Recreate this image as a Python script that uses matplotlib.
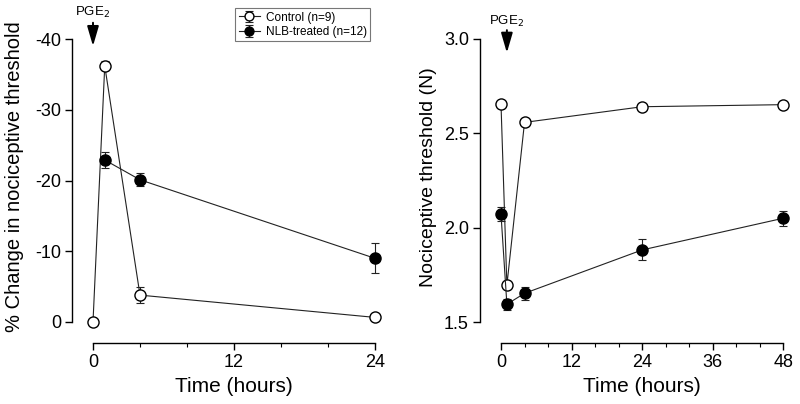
import numpy as np
import matplotlib.pyplot as plt

plt.rcParams['font.family'] = ['Liberation Sans', 'DejaVu Sans']
plt.rcParams['axes.unicode_minus'] = False

# left panel: % change in nociceptive threshold
t_left_ctrl = [0, 1, 4, 24]
pct_ctrl = [0.0, -36.2, -3.8, -0.65]
pct_ctrl_err = [0.0, 0.65, 1.1, 0.0]
t_left_nlb = [1, 4, 24]
pct_nlb = [-22.9, -20.1, -9.0]
pct_nlb_err = [1.1, 0.9, 2.1]

# right panel: nociceptive threshold (N)
t_right = [0, 1, 4, 24, 48]
thr_ctrl = [2.655, 1.695, 2.558, 2.641, 2.652]
thr_ctrl_err = [0.0, 0.0, 0.02, 0.0, 0.0]
thr_nlb = [2.071, 1.594, 1.652, 1.882, 2.05]
thr_nlb_err = [0.037, 0.03, 0.035, 0.056, 0.04]

W, H = 800, 404
fig = plt.figure(figsize=(W / 100, H / 100), dpi=100)


def box(x0, x1, ytop, ybot):
    return [x0 / W, 1 - ybot / H, (x1 - x0) / W, (ybot - ytop) / H]


ax1 = fig.add_axes(box(72, 390, 30, 343))
ax2 = fig.add_axes(box(480, 795, 30, 343))

lw = 0.8
ms = 8
cs = 2.6
arrow = dict(arrowstyle='-|>,head_width=0.35,head_length=1.2',
             color='black', lw=1.4, shrinkA=0, shrinkB=0)


def style(ax):
    for s in ['top', 'right']:
        ax.spines[s].set_visible(False)
    for s in ['left', 'bottom']:
        ax.spines[s].set_linewidth(1.0)
    ax.tick_params(axis='both', which='major', direction='out', length=5,
                   width=1.0, labelsize=13, pad=3)
    ax.tick_params(axis='x', which='minor', direction='out', length=3, width=0.8)
    ax.tick_params(axis='y', which='minor', left=False)


# left
ax1.errorbar(t_left_ctrl, pct_ctrl, yerr=pct_ctrl_err, fmt='-o', color='#222222',
             mfc='white', mec='black', ms=ms, lw=lw, elinewidth=lw, capsize=cs,
             capthick=lw, label='Control (n=9)', zorder=3)
ax1.errorbar(t_left_nlb, pct_nlb, yerr=pct_nlb_err, fmt='-o', color='#222222',
             mfc='black', mec='black', ms=ms, lw=lw, elinewidth=lw, capsize=cs,
             capthick=lw, label='NLB-treated (n=12)', zorder=3)
ax1.set_xlim(-21 / 11.75, 24 + 15 / 11.75)
ax1.set_ylim(21 / 7.075, -40 - 9 / 7.075)
ax1.set_xticks([0, 12, 24])
ax1.set_xticks([4, 8, 16, 20], minor=True)
ax1.set_yticks([0, -10, -20, -30, -40])
ax1.spines['bottom'].set_bounds(0, 24)
ax1.spines['left'].set_bounds(0, -40)
style(ax1)
ax1.set_xlabel('Time (hours)', fontsize=15)
ax1.set_ylabel('% Change in nociceptive threshold', fontsize=14.5)
ax1.xaxis.set_label_coords(0.509, -0.109)
ax1.yaxis.set_label_coords(-0.152, 0.53)
ax1.annotate('', xy=(0, -39.0), xytext=(0, -42.3), annotation_clip=False,
             arrowprops=arrow)
ax1.text(0, -42.7, 'PGE$_2$', ha='center', va='bottom', fontsize=9.5,
         clip_on=False)

# right
ax2.errorbar(t_right, thr_ctrl, yerr=thr_ctrl_err, fmt='-o', color='#222222',
             mfc='white', mec='black', ms=ms, lw=lw, elinewidth=lw, capsize=cs,
             capthick=lw, zorder=3)
ax2.errorbar(t_right, thr_nlb, yerr=thr_nlb_err, fmt='-o', color='#222222',
             mfc='black', mec='black', ms=ms, lw=lw, elinewidth=lw, capsize=cs,
             capthick=lw, zorder=3)
ax2.set_xlim(-21 / 5.881, 48 + 11.7 / 5.881)
ax2.set_ylim(1.5 - 21 / 188.67, 3.0 + 9 / 188.67)
ax2.set_xticks([0, 12, 24, 36, 48])
ax2.set_xticks([4, 8, 16, 20, 28, 32, 40, 44], minor=True)
ax2.set_yticks([1.5, 2.0, 2.5, 3.0])
ax2.set_yticklabels(['1.5', '2.0', '2.5', '3.0'])
ax2.spines['bottom'].set_bounds(0, 48)
ax2.spines['left'].set_bounds(1.5, 3.0)
style(ax2)
ax2.set_xlabel('Time (hours)', fontsize=15)
ax2.set_ylabel('Nociceptive threshold (N)', fontsize=14)
ax2.xaxis.set_label_coords(0.514, -0.109)
ax2.yaxis.set_label_coords(-0.135, 0.53)
ax2.annotate('', xy=(1, 2.927), xytext=(1, 3.047), annotation_clip=False,
             arrowprops=arrow)
ax2.text(1, 3.052, 'PGE$_2$', ha='center', va='bottom', fontsize=9.5,
         clip_on=False)

h, l = ax1.get_legend_handles_labels()
leg = fig.legend(h, l, loc='upper left', bbox_to_anchor=(235 / W, 1 - 8 / H),
                 borderaxespad=0, fontsize=8.5, frameon=True, fancybox=False,
                 markerscale=0.8, handlelength=1.8, handletextpad=0.5,
                 borderpad=0.3, labelspacing=0.2)
leg.get_frame().set_edgecolor('#555555')
leg.get_frame().set_linewidth(0.8)

fig.savefig('out.png', dpi=100)
